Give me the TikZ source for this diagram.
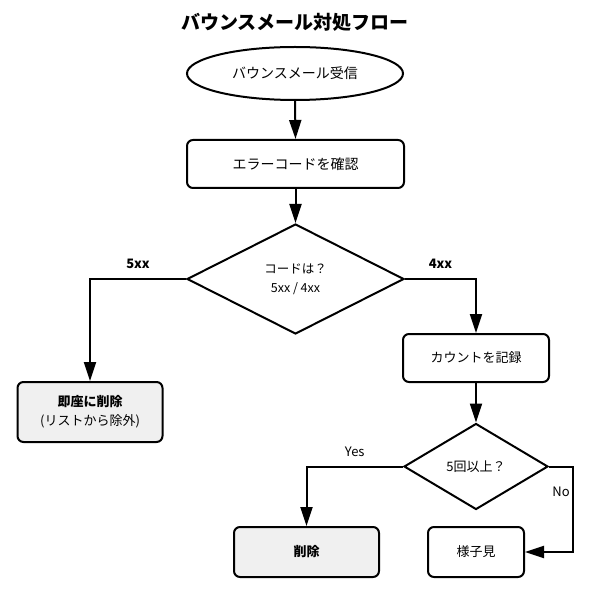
\documentclass[tikz,border=0pt]{standalone}
\usepackage{fontspec}
\setmainfont{Noto Sans CJK JP}
\usetikzlibrary{shapes.geometric,arrows.meta}
\definecolor{boxgray}{HTML}{F0F0F0}
\tikzset{
  base/.style={draw=black, line width=2pt, inner sep=0pt, align=center},
  procbox/.style={base, rectangle, rounded corners=6pt},
  endbox/.style={procbox, fill=boxgray},
  decision/.style={base, diamond, aspect=2},
  arr/.style={line width=2pt, -{Triangle[length=19pt,width=12pt]}},
  lbl/.style={font=\fontsize{13}{15}\selectfont},
  blbl/.style={font=\fontsize{13}{15}\selectfont\bfseries},
}
\begin{document}
\begin{tikzpicture}[x=1pt,y=-1pt]
\useasboundingbox (0,0) rectangle (589,593);
\node[font=\fontsize{19}{22}\selectfont\bfseries] (title) at (295,22) {バウンスメール対処フロー};
\node[base, ellipse, minimum width=216pt, minimum height=53pt, font=\fontsize{14}{16}\selectfont] (recv) at (295,73.5) {バウンスメール受信};
\node[procbox, minimum width=217pt, minimum height=48pt, font=\fontsize{14}{16}\selectfont] (check) at (295.5,164) {エラーコードを確認};
\node[decision, minimum width=217pt, minimum height=110pt, font=\fontsize{12.5}{19}\selectfont] (code) at (295.5,279) {コードは？\\5xx / 4xx};
\node[endbox, minimum width=145pt, minimum height=60pt, font=\fontsize{13}{19}\selectfont] (now) at (90,412) {\textbf{即座に削除}\\(リストから除外)};
\node[procbox, minimum width=146pt, minimum height=48pt, font=\fontsize{13}{15}\selectfont] (count) at (476,358) {カウントを記録};
\node[decision, minimum width=144pt, minimum height=86pt, font=\fontsize{13}{15}\selectfont] (five) at (476,466.5) {5回以上？};
\node[endbox, minimum width=145pt, minimum height=50pt, font=\fontsize{13}{15}\selectfont\bfseries] (del) at (306.5,552) {削除};
\node[procbox, minimum width=96pt, minimum height=50pt, font=\fontsize{13}{15}\selectfont] (wait) at (476,552) {様子見};
\draw[arr] (recv.south) -- (check.north);
\draw[arr] (check.south) -- (code.north);
\draw[arr] (code.west) -| node[pos=0.25, above=6pt, blbl] (l5) {5xx} (now.north);
\draw[arr] (code.east) -| node[pos=0.25, above=6pt, blbl] (l4) {4xx} (count.north);
\draw[arr] (count.south) -- (five.north);
\draw[arr] (five.west) -| node[pos=0.25, above=6pt, lbl] (ly) {Yes} (del.north);
\coordinate (nocorner) at (573,466.5);
\draw[arr] (five.east) -- (nocorner) |- (wait.east);
\node[lbl] (ln) at (561,492) {No};
\end{tikzpicture}
\end{document}
